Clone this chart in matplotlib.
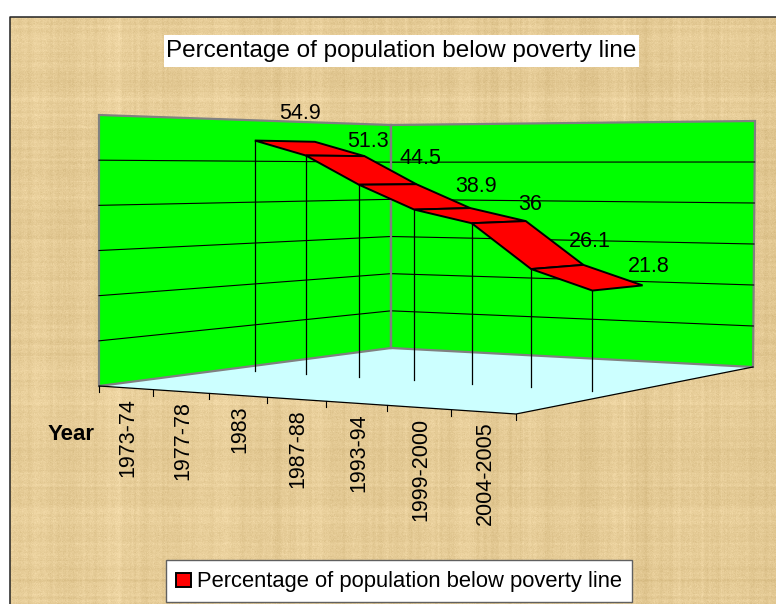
import numpy as np
import matplotlib
matplotlib.use("Agg")
import matplotlib.pyplot as plt
from matplotlib.patches import Polygon, Rectangle
from matplotlib.legend_handler import HandlerPatch

plt.rcParams['font.family'] = ['Liberation Sans', 'DejaVu Sans']

# ---- data ----
years = ['1973-74', '1977-78', '1983', '1987-88', '1993-94', '1999-2000', '2004-2005']
poverty = [54.9, 51.3, 44.5, 38.9, 36, 26.1, 21.8]
value_ticks = [0, 10, 20, 30, 40, 50, 60]
series_name = 'Percentage of population below poverty line'
x_title = 'Year'


# ---- 3-D box projection: (category u, depth w, value v) -> picture pixels ----
def homography(corners):
    src = [(0, 0), (1, 0), (1, 1), (0, 1)]
    A, b = [], []
    for (s, t), (x, y) in zip(src, corners):
        A.append([s, t, 1, 0, 0, 0, -s * x, -t * x]); b.append(x)
        A.append([0, 0, 0, s, t, 1, -s * y, -t * y]); b.append(y)
    h = np.linalg.solve(np.array(A, float), np.array(b, float))
    return np.append(h, 1).reshape(3, 3)


FLOOR = homography([(99, 386), (516, 414), (753, 367), (391, 348)])
CEIL = homography([(99, 115), (518, 108), (755, 121), (391, 125)])
VMAX = value_ticks[-1]


def project(u, w, v):
    def ap(H):
        p = H @ np.array([u, w, 1.0])
        return p[:2] / p[2]
    f = v / VMAX
    return (1 - f) * ap(FLOOR) + f * ap(CEIL)


n = len(years)
FRONT, BACK = 0.395, 0.605


def cat_u(i):
    return (i + 0.5) / n


# ---- canvas ----
fig = plt.figure(figsize=(7.76, 6.04), dpi=100, facecolor='white')
ax = fig.add_axes([0, 0, 1, 1])
ax.axis('off')

# papyrus-like background
rng = np.random.default_rng(3)
H, W = 587, 766


def smooth(a, k):
    return np.convolve(a, np.ones(k) / k, mode='same')


rows = smooth(rng.normal(0, 1, H), 3)[:, None] * 4 + smooth(rng.normal(0, 1, H), 25)[:, None] * 10
cols = smooth(rng.normal(0, 1, W), 3)[None, :] * 4 + smooth(rng.normal(0, 1, W), 25)[None, :] * 10
fine = rng.normal(0, 3.0, (H, W))
shade = rows + cols + fine
base = np.array([229, 203, 150], float)
tex = base[None, None, :] + shade[:, :, None] * np.array([0.9, 1.0, 1.2])
tex = np.clip(tex, 0, 255).astype(np.uint8)
ax.imshow(tex, extent=(10, 776, 604, 17), aspect='auto', zorder=0, interpolation='bilinear')
ax.set_xlim(0, 776)
ax.set_ylim(604, 0)
ax.plot([9.5, 9.5, 776], [604, 16.5, 16.5], color='#222222', lw=1.1, zorder=1)

GREY = '#808080'
# floor
floor_pts = [project(0, 0, 0), project(1, 0, 0), project(1, 1, 0), project(0, 1, 0)]
ax.add_patch(Polygon(floor_pts, closed=True, fc='#CCFFFF', ec='none', zorder=2))
# walls
left_wall = [project(0, 0, 0), project(0, 1, 0), project(0, 1, VMAX), project(0, 0, VMAX)]
right_wall = [project(0, 1, 0), project(1, 1, 0), project(1, 1, VMAX), project(0, 1, VMAX)]
for wall in (left_wall, right_wall):
    ax.add_patch(Polygon(wall, closed=True, fc='#00FF00', ec=GREY, lw=1.6, zorder=3))

# value gridlines on the walls
for v in value_ticks[1:-1]:
    pts = np.array([project(0, 0, v), project(0, 1, v), project(1, 1, v)])
    ax.plot(pts[:, 0], pts[:, 1], color='black', lw=0.8, zorder=4)
# redraw the inner corner over the gridlines
corner = np.array([project(0, 1, 0), project(0, 1, VMAX)])
ax.plot(corner[:, 0], corner[:, 1], color=GREY, lw=1.6, zorder=4.5)

# floor outer edges and category ticks
edge = np.array([project(0, 0, 0), project(1, 0, 0), project(1, 1, 0)])
ax.plot(edge[:, 0], edge[:, 1], color='black', lw=0.9, zorder=5)
for k in range(n + 1):
    tx, ty = project(k / n, 0, 0)
    ax.plot([tx, tx], [ty, ty + 6], color='black', lw=0.8, zorder=5)

# drop lines
for i, val in enumerate(poverty):
    fx, fy = project(cat_u(i), FRONT, 0)
    tx, ty = project(cat_u(i), FRONT, val)
    ax.plot([tx, tx], [fy, ty], color='black', lw=0.9, zorder=6)

# ribbon
for i in range(n - 1):
    quad = [project(cat_u(i), FRONT, poverty[i]),
            project(cat_u(i), BACK, poverty[i]),
            project(cat_u(i + 1), BACK, poverty[i + 1]),
            project(cat_u(i + 1), FRONT, poverty[i + 1])]
    ax.add_patch(Polygon(quad, closed=True, fc='#FF0000', ec='black', lw=1.4,
                         joinstyle='miter', zorder=7 + 0.01 * i,
                         label=series_name if i == 0 else None))

# value labels, offset from the back edge of the ribbon
label_offsets = [(-15, 28), (3, 15), (4, 26), (6, 22), (4, 17), (6, 23), (6, 19)]
for i, val in enumerate(poverty):
    ax.annotate(f'{val:g}', xy=project(cat_u(i), BACK, val), xytext=label_offsets[i],
                textcoords='offset pixels', ha='center', va='center',
                fontsize=15.5, color='black', zorder=9)

# category labels
for i, lab in enumerate(years):
    x, y = project(cat_u(i), 0, 0)
    ax.text(x + 2, y + 10, lab, rotation=90, ha='center', va='top', fontsize=15.5, zorder=9)
ax.text(71.5, 434, x_title, ha='center', va='center', fontsize=16, fontweight='bold', zorder=9)

# title
ax.add_patch(Rectangle((164, 35), 475, 32, fc='white', ec='none', zorder=9.5))
ax.text(401, 51, series_name, ha='center', va='center', fontsize=17.5, zorder=10)


# legend
def small_square(legend, orig_handle, xdescent, ydescent, width, height, fontsize):
    side = 10.4
    return Rectangle((-xdescent, -ydescent + (height - side) / 2), side, side)


leg = ax.legend(handles=[h for h in ax.patches if h.get_label() == series_name],
                loc='center', bbox_to_anchor=(399, 581), bbox_transform=ax.transData,
                fontsize=15.8, frameon=True, fancybox=False, framealpha=1, facecolor='white',
                edgecolor='#606060', handlelength=0.67, handleheight=1.1,
                handletextpad=0.28, borderpad=0.45, borderaxespad=0,
                handler_map={Polygon: HandlerPatch(patch_func=small_square)})
leg.set_zorder(10)

fig.savefig('out.png', dpi=100, facecolor='white')
